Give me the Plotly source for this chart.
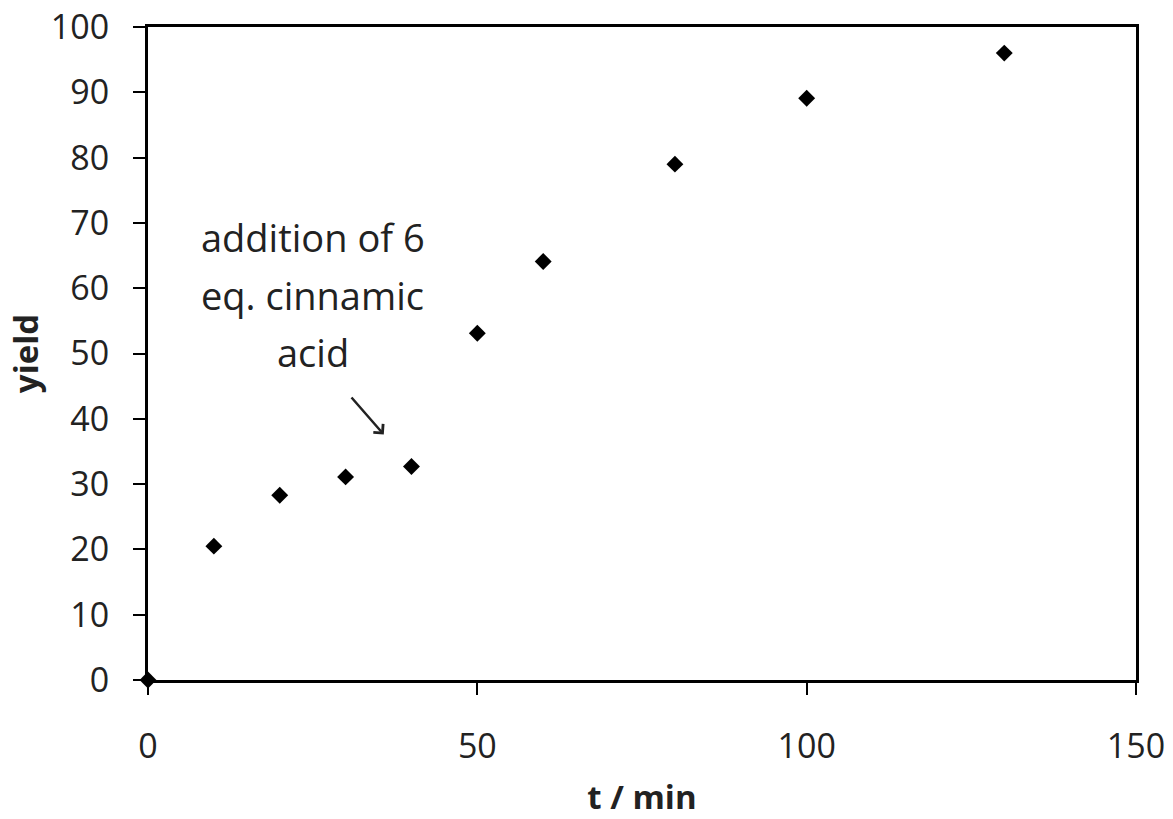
import plotly.graph_objects as go

t_min = [0, 10, 20, 30, 40, 50, 60, 80, 100, 130]
yield_vals = [0, 20.5, 28.3, 31.1, 32.7, 53.1, 64.1, 79.0, 89.1, 96.0]
x_ticks = [0, 50, 100, 150]
y_ticks = [0, 10, 20, 30, 40, 50, 60, 70, 80, 90, 100]
note_lines = ["addition of 6", "eq. cinnamic", "acid"]
note_x = 25.0
note_y = [67.8, 59.0, 50.3]
arrow_tail = (30.7, 43.5)
arrow_head = (35.8, 37.6)

FONT = "Open Sans"

fig = go.Figure()
fig.add_trace(go.Scatter(
    x=t_min, y=yield_vals, mode="markers",
    marker=dict(symbol="diamond", size=13, color="black"),
    showlegend=False, cliponaxis=False,
))

for txt, yy in zip(note_lines, note_y):
    fig.add_annotation(x=note_x, y=yy, xref="x", yref="y", text=txt,
                       showarrow=False, font=dict(family=FONT, size=38, color="#222"),
                       xanchor="center", yanchor="middle")

fig.add_annotation(x=arrow_head[0], y=arrow_head[1], ax=arrow_tail[0], ay=arrow_tail[1],
                   xref="x", yref="y", axref="x", ayref="y", text="",
                   showarrow=True, arrowhead=4, arrowsize=1.0, arrowwidth=2.5, arrowcolor="#222")

fig.update_layout(
    width=1173, height=819,
    margin=dict(l=148, r=37, t=27, b=139, autoexpand=False),
    paper_bgcolor="white", plot_bgcolor="white",
    font=dict(family=FONT, color="#222"),
)
fig.update_xaxes(
    range=[0, 150], tickvals=x_ticks, ticktext=[str(v) for v in x_ticks],
    showgrid=False, zeroline=False, showline=True, linecolor="black", linewidth=3,
    mirror=True, ticks="outside", ticklen=12, tickwidth=2, tickcolor="black",
    tickfont=dict(family=FONT, size=34, color="#222"), ticklabelstandoff=22,
    automargin=False, ticklabeloverflow="allow",
    title=dict(text="<b>t / min</b>", font=dict(family=FONT, size=33, color="#222"), standoff=21),
)
fig.update_yaxes(
    range=[0, 100], tickvals=y_ticks, ticktext=[str(v) for v in y_ticks],
    showgrid=False, zeroline=False, showline=True, linecolor="black", linewidth=3,
    mirror=True, ticks="outside", ticklen=12, tickwidth=2, tickcolor="black",
    tickfont=dict(family=FONT, size=34, color="#222"), ticklabelstandoff=17,
    automargin=False, ticklabeloverflow="allow",
    title=dict(text="<b>yield</b>", font=dict(family=FONT, size=33, color="#222"), standoff=3),
)

fig.write_html("out.html", config={"displayModeBar": False},
               post_script="document.body.style.margin='0';")
